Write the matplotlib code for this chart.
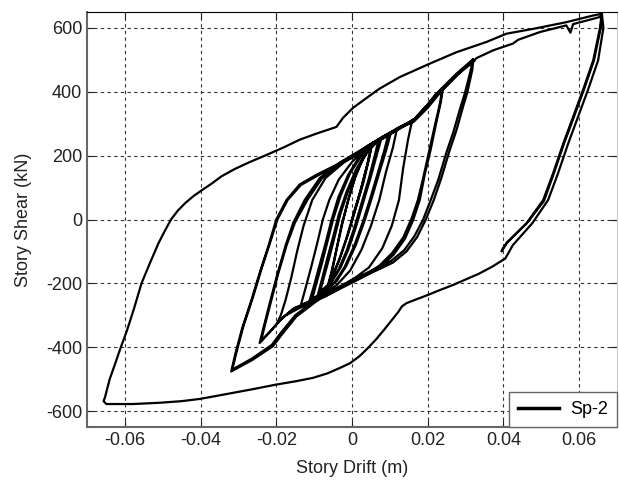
import numpy as np
import matplotlib
matplotlib.use("Agg")
import matplotlib.pyplot as plt

plt.rcParams['font.family'] = ['Liberation Sans', 'DejaVu Sans']
plt.rcParams['axes.unicode_minus'] = False

# --- hysteresis data (story drift in m, story shear in kN) ---
# small cycles in the middle (two passes each)
cyc_a1_drift = [0, 0.002, 0.004, 0.005, 0.0042, 0.0025, 0.0005, -0.0015, -0.0035, -0.0055, -0.0062,
                -0.0052, -0.004, -0.0025, -0.0008, 0.001, 0.003, 0.005]
cyc_a1_shear = [0, 80, 170, 222, 180, 100, 20, -60, -130, -185, -205,
                -160, -90, -10, 70, 140, 195, 228]

cyc_a2_drift = [0.0052, 0.0045, 0.003, 0.001, -0.001, -0.003, -0.005, -0.0065, -0.0055, -0.0042,
                -0.0028, -0.001, 0.0008, 0.0028, 0.0048, 0.0058]
cyc_a2_shear = [232, 190, 115, 35, -45, -115, -175, -212, -168, -98,
                -20, 60, 130, 188, 225, 236]

cyc_b1_drift = [0.007, 0.006, 0.0045, 0.0025, 0.0005, -0.0015, -0.0035, -0.0055, -0.0085,
                -0.0075, -0.006, -0.0045, -0.003, -0.001, 0.0015, 0.004, 0.0065, 0.0072]
cyc_b1_shear = [248, 200, 130, 50, -30, -100, -155, -195, -228,
                -185, -120, -50, 20, 90, 160, 210, 242, 250]

cyc_b2_drift = [0.0078, 0.0066, 0.005, 0.003, 0.001, -0.001, -0.003, -0.0055, -0.009,
                -0.008, -0.0066, -0.005, -0.0035, -0.0015, 0.001, 0.0035, 0.006, 0.0078]
cyc_b2_shear = [255, 205, 135, 55, -25, -95, -150, -198, -235,
                -190, -125, -55, 15, 85, 155, 206, 240, 255]

cyc_c1_drift = [0.0095, 0.0085, 0.0068, 0.0048, 0.0028, 0.0005, -0.002, -0.0045, -0.0075, -0.0105,
                -0.0095, -0.008, -0.0065, -0.005, -0.003, -0.0005, 0.0025, 0.0058, 0.0095]
cyc_c1_shear = [262, 215, 145, 65, -10, -85, -150, -195, -228, -248,
                -205, -140, -70, 0, 75, 145, 200, 240, 262]

cyc_c2_drift = [0.0102, 0.0091, 0.0073, 0.0053, 0.0033, 0.001, -0.0015, -0.004, -0.0075, -0.0112,
                -0.0101, -0.0086, -0.007, -0.0055, -0.0036, -0.001, 0.002, 0.0055, 0.0102]
cyc_c2_shear = [268, 220, 150, 70, -5, -80, -145, -192, -230, -254,
                -210, -145, -75, -5, 70, 140, 198, 240, 268]

cyc_d_drift = [0.0118, 0.0108, 0.009, 0.0072, 0.005, 0.0025, -0.0005, -0.004, -0.0085, -0.0135,
               -0.0125, -0.0108, -0.0092, -0.0077, -0.006, -0.0035, 0, 0.004, 0.008, 0.0118]
cyc_d_shear = [280, 225, 150, 61, -20, -95, -160, -205, -242, -268,
               -225, -150, -75, 0, 61, 125, 180, 228, 258, 280]

cyc_e_drift = [0.0158, 0.0148, 0.0135, 0.0124, 0.0105, 0.008, 0.0045, 0, -0.005, -0.0095, -0.014,
               -0.0175, -0.0198, -0.0188, -0.0175, -0.016, -0.0145, -0.0128, -0.0105, -0.007,
               -0.002, 0.004, 0.0095, 0.0135, 0.0158]
cyc_e_shear = [306, 250, 160, 61, -20, -90, -150, -190, -228, -255, -278,
               -300, -325, -300, -250, -180, -100, -20, 61, 130,
               180, 230, 268, 293, 306]

cyc_f1_drift = [0.024, 0.0235, 0.0222, 0.0208, 0.0192, 0.0179, 0.0162, 0.014, 0.011, 0.0075, 0.003,
                -0.002, -0.007, -0.0115, -0.0156, -0.019, -0.0215, -0.0244,
                -0.0235, -0.0218, -0.0198, -0.0175, -0.0155, -0.0125, -0.0085, -0.003, 0.003,
                0.0085, 0.0135, 0.0165, 0.0197, 0.022, 0.024]
cyc_f1_shear = [410, 370, 300, 220, 140, 61, 0, -60, -110, -150, -180,
                -210, -240, -262, -280, -315, -350, -387,
                -345, -265, -175, -80, -10, 61, 130, 180, 222,
                262, 295, 315, 355, 390, 412]

cyc_f2_drift = [0.0238, 0.0232, 0.0218, 0.0203, 0.0188, 0.0174, 0.0158, 0.0136, 0.0106, 0.0072, 0.0028,
                -0.002, -0.0068, -0.0112, -0.015, -0.0185, -0.0212, -0.024,
                -0.0232, -0.0215, -0.0195, -0.0172, -0.015, -0.0118, -0.008, -0.0025, 0.0035,
                0.009, 0.0138, 0.0168, 0.0198, 0.0222, 0.0238]
cyc_f2_shear = [405, 362, 290, 210, 130, 61, 5, -55, -105, -145, -177,
                -207, -236, -258, -276, -310, -345, -380,
                -340, -262, -170, -78, -8, 61, 128, 178, 220,
                260, 293, 318, 358, 392, 405]

cyc_g1_drift = [0.032, 0.0318, 0.0305, 0.0293, 0.0276, 0.0258, 0.0236, 0.0216, 0.0195, 0.0172, 0.0144,
                0.0108, 0.0073, 0.0003, -0.0085, -0.0147, -0.0185, -0.0209, -0.0262, -0.0319,
                -0.0308, -0.029, -0.0265, -0.0242, -0.022, -0.02, -0.0173, -0.0138, -0.0094,
                -0.004, 0.0003, 0.0064, 0.0126, 0.0161, 0.0197, 0.0232, 0.0276, 0.032]
cyc_g1_shear = [502, 470, 400, 352, 280, 217, 130, 61, 0, -55, -100,
                -135, -155, -192, -248, -304, -360, -397, -439, -476,
                -420, -340, -250, -160, -80, 0, 61, 110, 140,
                172, 198, 246, 290, 308, 352, 405, 457, 502]

cyc_g2_drift = [0.0312, 0.0298, 0.0285, 0.0268, 0.025, 0.0228, 0.0208, 0.0188, 0.0165, 0.0138,
                0.0103, 0.0068, -0.0002, -0.009, -0.015, -0.0188, -0.0212, -0.0265, -0.0316,
                -0.0305, -0.0287, -0.0262, -0.0239, -0.0217, -0.0197, -0.017, -0.0135, -0.009,
                -0.0038, 0.0005, 0.0066, 0.0128, 0.0163, 0.02, 0.0236, 0.028, 0.0322]
cyc_g2_shear = [460, 395, 345, 275, 212, 125, 61, 0, -52, -96,
                -130, -152, -190, -246, -300, -355, -393, -436, -470,
                -415, -335, -245, -155, -75, 0, 61, 108, 138,
                170, 196, 244, 288, 306, 350, 402, 455, 495]

# large cycle: push to +0.065, hook near 0.04, then full reversal to -0.065 and back
big_push_drift = [0.0328, 0.0373, 0.0425, 0.0439, 0.0496, 0.0566, 0.0577, 0.0584, 0.0654, 0.0659]
big_push_shear = [505, 530, 551, 563, 587, 608, 585, 612, 634, 640]

big_unload_drift = [0.0655, 0.0637, 0.061, 0.0584, 0.0558, 0.0531, 0.0505, 0.0461, 0.0408, 0.0395]
big_unload_shear = [600, 498, 405, 321, 238, 144, 61, -12, -74, -100]

big_hook_drift = [0.0398, 0.041, 0.0463, 0.0507, 0.0533, 0.056, 0.0586, 0.0612, 0.0639, 0.0657, 0.066]
big_hook_shear = [-92, -72, -10, 58, 144, 238, 321, 405, 498, 600, 645]

big_down_drift = [0.0664, 0.065, 0.0623, 0.0597, 0.0571, 0.0544, 0.0518, 0.0476, 0.0425, 0.0405,
                  0.037, 0.0335, 0.03, 0.0267, 0.023, 0.0197, 0.017, 0.0144, 0.0132, 0.0122,
                  0.011, 0.0085, 0.0064, 0.004, 0.002, -0.0005, -0.0032, -0.0065, -0.0103, -0.015,
                  -0.02, -0.026, -0.0314, -0.036, -0.0402, -0.045, -0.0508, -0.0579, -0.0649, -0.0656]
big_down_shear = [600, 498, 405, 321, 238, 144, 61, -12, -80, -122,
                  -148, -170, -188, -205, -222, -238, -250, -262, -272, -290,
                  -308, -345, -375, -405, -428, -450, -465, -482, -496, -507,
                  -517, -531, -543, -553, -562, -569, -574, -578, -578, -569]

big_reload_drift = [-0.0652, -0.064, -0.0628, -0.0613, -0.0595, -0.0576, -0.0556, -0.0535, -0.0511,
                    -0.0495, -0.0478, -0.046, -0.044, -0.0418, -0.0395, -0.037, -0.0345, -0.031,
                    -0.027, -0.023, -0.0182, -0.0138, -0.0094, -0.0041, -0.0024, 0.0003, 0.004,
                    0.0073, 0.0126, 0.0205, 0.0276, 0.0355, 0.0408, 0.0478, 0.0566, 0.0637, 0.0659]
big_reload_shear = [-555, -500, -460, -408, -350, -280, -200, -140, -74,
                    -37, 0, 28, 52, 74, 93, 113, 135, 158,
                    180, 200, 225, 250, 269, 290, 318, 350, 382,
                    410, 446, 488, 524, 556, 582, 597, 618, 639, 644]

drift_parts = [cyc_a1_drift, cyc_a2_drift, cyc_b1_drift, cyc_b2_drift, cyc_c1_drift, cyc_c2_drift,
               cyc_d_drift, cyc_e_drift, cyc_f1_drift, cyc_f2_drift, cyc_g1_drift, cyc_g2_drift,
               big_push_drift, big_unload_drift, big_hook_drift, big_down_drift, big_reload_drift]
shear_parts = [cyc_a1_shear, cyc_a2_shear, cyc_b1_shear, cyc_b2_shear, cyc_c1_shear, cyc_c2_shear,
               cyc_d_shear, cyc_e_shear, cyc_f1_shear, cyc_f2_shear, cyc_g1_shear, cyc_g2_shear,
               big_push_shear, big_unload_shear, big_hook_shear, big_down_shear, big_reload_shear]
drift = np.concatenate(drift_parts)
shear = np.concatenate(shear_parts)

x_ticks = [-0.06, -0.04, -0.02, 0, 0.02, 0.04, 0.06]
y_ticks = [-600, -400, -200, 0, 200, 400, 600]

fig = plt.figure(figsize=(6.19, 4.91), dpi=100)
ax = fig.add_axes([0.1405, 0.1303, 0.8563, 0.8453])

ax.plot(drift, shear, color='black', linewidth=1.6, solid_joinstyle='round', label='Sp-2')

ax.set_xlim(-0.07, 0.07)
ax.set_ylim(-650, 650)
ax.set_xticks(x_ticks)
ax.set_yticks(y_ticks)
ax.set_xticklabels([f"{v:g}" for v in x_ticks])
ax.set_yticklabels([f"{v:g}" for v in y_ticks])

ax.grid(True, linestyle=(0, (3, 3)), color='#333333', linewidth=0.8)
ax.tick_params(direction='in', top=True, right=True, length=5, labelsize=13, colors='#222222')
for side in ['left', 'bottom']:
    ax.spines[side].set_color('#666666')
    ax.spines[side].set_linewidth(1.5)
ax.spines['top'].set_color('black')
ax.spines['right'].set_color('#cccccc')

ax.set_xlabel('Story Drift (m)', fontsize=13, color='#222222', labelpad=8)
ax.set_ylabel('Story Shear (kN)', fontsize=13, color='#222222', labelpad=10)

leg = ax.legend(loc='lower right', borderaxespad=0, fancybox=False, edgecolor='#666666',
                framealpha=1, fontsize=13, handlelength=2.3, borderpad=0.5, handletextpad=0.6)
leg.get_lines()[0].set_linewidth(2.5)

fig.savefig('out.png', dpi=100)
